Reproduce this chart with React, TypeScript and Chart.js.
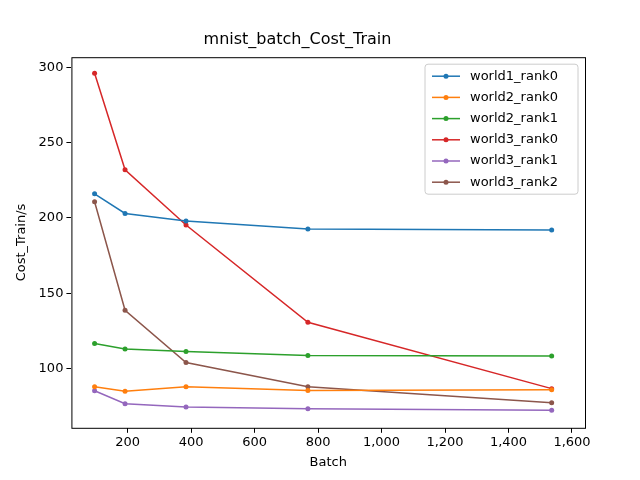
import { useRef, useEffect } from 'react';
import { Chart } from 'chart.js/auto';

const batches = [96, 192, 384, 768, 1536];
const seriesNames = ['world1_rank0', 'world2_rank0', 'world2_rank1', 'world3_rank0', 'world3_rank1', 'world3_rank2'];
const seriesColors = ['#1f77b4', '#ff7f0e', '#2ca02c', '#d62728', '#9467bd', '#8c564b'];
const w1r0 = [216, 203, 198, 192.7, 192];
const w2r0 = [88, 85, 88, 85.5, 86];
const w2r1 = [116.7, 113, 111.3, 108.7, 108.3];
const w3r0 = [296, 232, 195.3, 130.7, 86.7];
const w3r1 = [85.3, 76.7, 74.5, 73.3, 72.3];
const w3r2 = [210.7, 138.7, 104, 88, 77.3];
const xTicks = [200, 400, 600, 800, 1000, 1200, 1400, 1600];
const yTicks = [100, 150, 200, 250, 300];

const FONT = 'DejaVu Sans';

const App = () => {
    const canvasRef = useRef(null);
    const chartRef = useRef(null);

    useEffect(() => {
        if (!canvasRef.current) return;
        if (chartRef.current) chartRef.current.destroy();

        const all = [w1r0, w2r0, w2r1, w3r0, w3r1, w3r2];

        // matplotlib-like frame and in-axes legend
        const framePlugin = {
            id: 'frame',
            afterDraw(chart) {
                const { ctx, chartArea: a } = chart;
                ctx.save();
                ctx.strokeStyle = '#000';
                ctx.lineWidth = 1;
                ctx.strokeRect(a.left + 0.5, a.top + 0.5, a.right - a.left, a.bottom - a.top);
                const bx = a.right - 160, by = a.top + 7, bw = 153, bh = 130;
                ctx.fillStyle = 'rgba(255,255,255,0.8)';
                ctx.strokeStyle = '#ccc';
                ctx.beginPath();
                ctx.roundRect(bx, by, bw, bh, 3);
                ctx.fill();
                ctx.stroke();
                ctx.font = `13px ${FONT}`;
                ctx.textBaseline = 'middle';
                seriesNames.forEach((n, i) => {
                    const y = by + 12 + i * 21.2;
                    ctx.strokeStyle = seriesColors[i];
                    ctx.fillStyle = seriesColors[i];
                    ctx.lineWidth = 1.5;
                    ctx.beginPath();
                    ctx.moveTo(bx + 7, y);
                    ctx.lineTo(bx + 35, y);
                    ctx.stroke();
                    ctx.beginPath();
                    ctx.arc(bx + 21, y, 2.5, 0, Math.PI * 2);
                    ctx.fill();
                    ctx.fillStyle = '#000';
                    ctx.fillText(n, bx + 45, y);
                });
                ctx.restore();
            }
        };

        chartRef.current = new Chart(canvasRef.current, {
            type: 'line',
            data: {
                datasets: seriesNames.map((n, i) => ({
                    label: n,
                    data: batches.map((b, j) => ({ x: b, y: all[i][j] })),
                    borderColor: seriesColors[i],
                    backgroundColor: seriesColors[i],
                    borderWidth: 1.5,
                    pointRadius: 2.5,
                    pointBorderWidth: 0,
                    tension: 0
                }))
            },
            options: {
                animation: false,
                responsive: false,
                layout: { padding: { left: 10, right: 55, top: 4, bottom: 6 } },
                plugins: {
                    legend: { display: false },
                    tooltip: { enabled: false },
                    title: {
                        display: true,
                        text: 'mnist_batch_Cost_Train',
                        color: '#000',
                        font: { family: FONT, size: 16, weight: 'normal' },
                        padding: { top: 26, bottom: 8 }
                    }
                },
                scales: {
                    x: {
                        type: 'linear',
                        min: 23,
                        max: 1641,
                        afterBuildTicks: (s) => { s.ticks = xTicks.map(v => ({ value: v })); },
                        grid: { drawOnChartArea: false, tickLength: 5, color: '#000' },
                        border: { display: false },
                        ticks: { color: '#000', font: { family: FONT, size: 13 }, maxRotation: 0, padding: 2 },
                        title: { display: true, text: 'Batch', color: '#000', font: { family: FONT, size: 13 }, padding: { top: 2 } }
                    },
                    y: {
                        min: 60.7,
                        max: 306.7,
                        afterBuildTicks: (s) => { s.ticks = yTicks.map(v => ({ value: v })); },
                        grid: { drawOnChartArea: false, tickLength: 5, color: '#000' },
                        border: { display: false },
                        ticks: { color: '#000', font: { family: FONT, size: 13 }, padding: 3 },
                        title: { display: true, text: 'Cost_Train/s', color: '#000', font: { family: FONT, size: 13 }, padding: { bottom: 6 } }
                    }
                }
            },
            plugins: [framePlugin]
        });

        return () => { if (chartRef.current) chartRef.current.destroy(); };
    }, []);

    return (
        <div style={{ position: 'absolute', left: 0, top: 0, width: 640, height: 480, background: '#fff' }}>
            <canvas ref={canvasRef} width={640} height={480}></canvas>
        </div>
    );
};

export default App;
